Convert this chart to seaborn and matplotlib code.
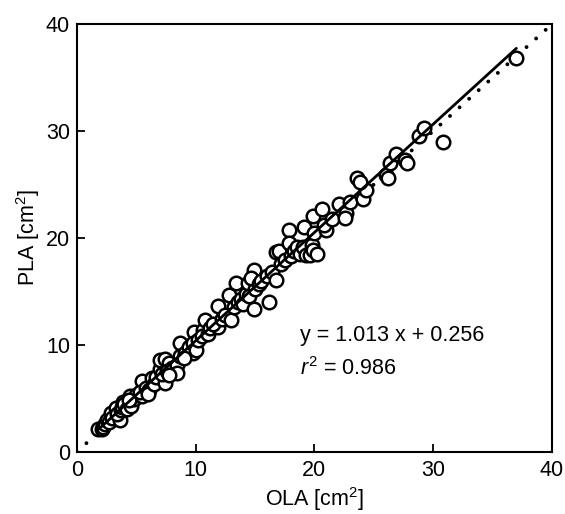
""" Projected vs observed leaf area, scatter with regression line """

import matplotlib
matplotlib.use('Agg')
import matplotlib.pyplot as plt
import numpy as np
import pandas as pd
import seaborn as sns

sns.set_theme(
    style='ticks',
    rc={
        'axes.edgecolor': 'black',
        'axes.linewidth': 1.5,
        'axes.labelcolor': 'black',
        'text.color': 'black',
        'xtick.color': 'black',
        'ytick.color': 'black',
        'xtick.direction': 'in',
        'ytick.direction': 'in',
        'xtick.major.size': 6,
        'ytick.major.size': 6,
        'xtick.major.width': 1.3,
        'ytick.major.width': 1.3,
        'xtick.major.pad': 6,
        'ytick.major.pad': 5,
        'mathtext.fontset': 'custom',
        'mathtext.rm': 'Liberation Sans',
        'mathtext.it': 'Liberation Sans:italic'})
plt.rcParams['font.family'] = ['Liberation Sans', 'DejaVu Sans']

FONT_SIZE = 15.5
figsize = (5.65, 5.14)
dpi = 100

# regression coefficients as printed on the chart
SLOPE = 1.013
INTERCEPT = 0.256
R2 = 0.986

# OLA (x) and PLA (y)
ola = [1.8, 2.1, 2.2, 2.4, 2.5, 2.7, 2.9, 3.0, 3.3, 3.6, 3.4, 3.7, 3.9, 3.8,
       4.0, 4.2, 4.5, 4.6, 4.8, 5.0, 4.4,
       5.5, 5.5, 5.3, 5.8, 6.1, 6.0, 6.3, 6.5, 6.7, 7.0, 7.4, 7.0, 7.4, 7.8,
       7.2, 7.6, 8.0, 8.4, 8.4, 7.8, 8.7, 8.7, 9.1, 9.8, 9.4, 9.9, 9.8, 9.0,
       10.0, 10.2,
       10.6, 10.8, 10.5, 11.0, 11.2, 11.9, 11.9, 11.5, 12.2, 12.5, 12.8, 13.0,
       13.2, 13.4, 13.6, 13.8, 14.0, 14.2, 14.4, 14.5, 14.9, 14.9, 15.0, 14.7,
       15.3, 15.5, 16.0, 16.2, 16.4, 16.8, 16.8, 17.0, 17.2, 17.5, 17.9, 17.9,
       18.0, 18.3, 18.5, 18.8, 19.0, 19.1, 19.3, 19.6, 19.8, 19.9, 19.9, 20.2,
       20.0,
       20.6, 21.0, 20.8, 21.5, 22.1, 22.7, 22.6, 23.0, 23.6, 24.1, 24.3, 23.8,
       26.0, 26.2, 26.4, 26.9, 27.6, 27.8, 28.8, 29.2, 30.8, 37.0]
pla = [2.1, 2.1, 2.3, 2.6, 3.0, 2.8, 3.6, 3.2, 4.1, 3.0, 3.5, 3.9, 4.7, 4.2,
       4.5, 4.0, 5.2, 4.3, 4.9, 5.3, 4.8,
       5.2, 6.6, 5.6, 6.0, 5.8, 5.4, 6.9, 6.3, 7.0, 7.7, 6.4, 8.6, 8.7, 8.3,
       7.3, 7.6, 7.8, 8.1, 7.4, 7.2, 10.2, 9.0, 9.2, 9.2, 9.8, 11.2, 10.2, 8.8,
       9.5, 10.5,
       11.4, 12.3, 10.8, 11.0, 11.6, 11.7, 13.6, 12.0, 12.4, 12.8, 14.7, 12.3,
       13.5, 15.8, 14.0, 14.3, 13.8, 14.8, 15.8, 14.6, 17.0, 13.4, 15.2, 16.3,
       15.7, 16.0, 16.4, 14.0, 16.8, 18.7, 16.1, 18.8, 17.6, 17.9, 20.7, 19.5,
       18.3, 18.8, 19.2, 18.5, 19.2, 21.0, 18.4, 18.4, 19.3, 18.9, 22.1, 18.5,
       20.5,
       22.7, 20.7, 21.2, 21.8, 23.2, 22.3, 21.9, 23.4, 25.6, 23.6, 24.5, 25.2,
       25.9, 25.6, 27.0, 27.9, 27.3, 27.0, 29.5, 30.3, 29.0, 36.8]

df = pd.DataFrame({'OLA': ola, 'PLA': pla})

fig = plt.figure(figsize=figsize, dpi=dpi)
ax = fig.add_axes([0.136, 0.121, 0.841, 0.832])

# 1:1 line
ax.plot([0, 40], [0, 40], color='black', lw=2.8,
        linestyle=(0, (0.01, 3.3)), dash_capstyle='round', zorder=1)

sns.scatterplot(
    data=df, x='OLA', y='PLA', ax=ax,
    s=95, marker='o', facecolor='white', edgecolor='black',
    linewidth=1.8, zorder=2)

xfit = np.array([min(ola), max(ola)])
ax.plot(xfit, SLOPE * xfit + INTERCEPT, color='black', lw=2.0, zorder=3)

ax.set_xlim(0, 40)
ax.set_ylim(0, 40)
ax.set_xticks(np.arange(0, 41, 10))
ax.set_yticks(np.arange(0, 41, 10))
ax.tick_params(labelsize=FONT_SIZE)
ax.set_xlabel(r'OLA [cm$^\mathregular{2}$]', fontsize=FONT_SIZE, labelpad=3)
ax.set_ylabel(r'PLA [cm$^\mathregular{2}$]', fontsize=FONT_SIZE, labelpad=3)

ax.text(18.8, 10.9, 'y = %.3f x + %.3f' % (SLOPE, INTERCEPT),
        fontsize=FONT_SIZE, va='center', ha='left')
ax.text(18.8, 7.8, r'$r^{2}$ = %.3f' % R2,
        fontsize=FONT_SIZE, va='center', ha='left')

fig.savefig('out.png', dpi=dpi)
plt.close(fig)
